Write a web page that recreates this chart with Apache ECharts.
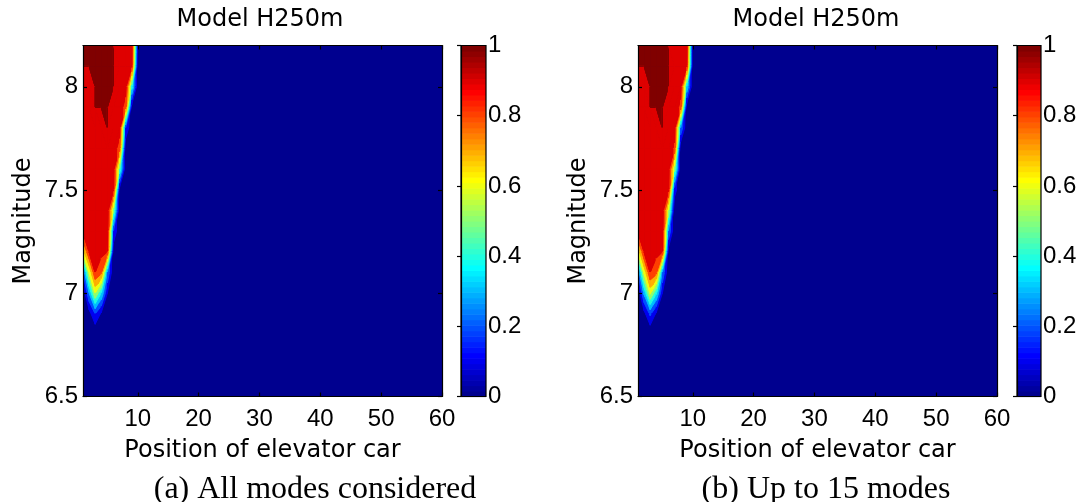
<!DOCTYPE html>
<html>
<head>
<meta charset="utf-8">
<script src="https://cdn.jsdelivr.net/npm/echarts@6/dist/echarts.min.js"></script>
<style>
  html, body { margin: 0; padding: 0; background: #fff; }
  #chart { width: 1084px; height: 502px; }
</style>
</head>
<body>
<div id="chart"></div>
<script>
// Grid rows from the top (y = 8.2) down to y = 6.5, columns x = 1..60.
// Only the first columns are listed, every column after them reads 0.
const yValues = [8.2, 8.1, 8.0, 7.9, 7.8, 7.7, 7.6, 7.5, 7.4, 7.3, 7.2, 7.1, 7.0, 6.9, 6.8, 6.7, 6.6, 6.5];
const xFirst = 1;
const xCount = 60;

// (a) All modes considered
const rowsAll = [
  [1, 1, 1, 1, 1, 1, 0.98, 0.97, 0.96, 0.05],
  [1, 1, 1, 1, 1, 1, 0.98, 0.97, 0.93],
  [0.98, 0.98, 1, 1, 1, 1, 0.97, 0.95, 0.45],
  [0.97, 0.97, 1, 1, 1, 0.98, 0.96, 0.85, 0.05],
  [0.96, 0.96, 0.97, 0.98, 1, 0.97, 0.95, 0.2],
  [0.96, 0.96, 0.96, 0.96, 0.96, 0.96, 0.85],
  [0.95, 0.95, 0.95, 0.95, 0.95, 0.95, 0.5],
  [0.95, 0.95, 0.95, 0.95, 0.94, 0.92, 0.05],
  [0.95, 0.95, 0.95, 0.95, 0.96, 0.55],
  [0.93, 0.95, 0.95, 0.95, 0.94, 0.2],
  [0.65, 0.9, 0.93, 0.93, 0.9, 0.02],
  [0.2, 0.6, 0.9, 0.82, 0.3],
  [0, 0.3, 0.6, 0.4, 0.1],
  [0, 0.05, 0.2, 0.08],
  [], [], [], []
];

// (b) Up to 15 modes
const rows15 = [
  [1, 1, 1, 1, 1, 1, 0.98, 0.97, 0.96],
  [1, 1, 1, 1, 1, 1, 0.98, 0.97, 0.92],
  [0.98, 0.98, 1, 1, 1, 1, 0.97, 0.95, 0.4],
  [0.97, 0.97, 1, 1, 1, 0.98, 0.96, 0.87, 0.03],
  [0.96, 0.96, 0.97, 0.98, 1, 0.97, 0.95, 0.3],
  [0.96, 0.96, 0.96, 0.96, 0.96, 0.96, 0.88],
  [0.95, 0.95, 0.95, 0.95, 0.95, 0.95, 0.55],
  [0.95, 0.95, 0.95, 0.95, 0.94, 0.93, 0.15],
  [0.95, 0.95, 0.95, 0.95, 0.96, 0.6],
  [0.93, 0.95, 0.95, 0.95, 0.94, 0.3],
  [0.63, 0.9, 0.93, 0.93, 0.9, 0.05],
  [0.22, 0.62, 0.9, 0.83, 0.3],
  [0, 0.32, 0.62, 0.42, 0.1],
  [0, 0.06, 0.22, 0.08],
  [], [], [], []
];

const levels = [0, 0.1, 0.2, 0.3, 0.4, 0.5, 0.6, 0.7, 0.8, 0.9, 1];
const xTicks = [10, 20, 30, 40, 50, 60];
const yTicks = [6.5, 7, 7.5, 8];
const panelTitle = 'Model H250m';
const captions = ['(a) All modes considered', '(b) Up to 15 modes'];

// MATLAB jet(64)
function jetU(i) {
  return i <= 16 ? i / 16 : (i <= 31 ? 1 : (48 - i) / 16);
}
function jet64(k) {
  const r = k >= 25 ? jetU(k - 24) : 0;
  const g = (k >= 9 && k <= 55) ? jetU(k - 8) : 0;
  const b = k <= 39 ? jetU(k + 8) : 0;
  return 'rgb(' + Math.round(r * 255) + ',' + Math.round(g * 255) + ',' + Math.round(b * 255) + ')';
}
const bandColors = levels.map(l => jet64(Math.min(64, Math.floor(l * 64 + 1e-9) + 1)));

function bandOf(v) {
  let k = 0;
  for (let i = 0; i < levels.length; i++) if (v >= levels[i] - 1e-12) k = i;
  return k;
}

function valueAt(rows, i, j) {
  const r = rows[j];
  return (r && r[i] !== undefined) ? r[i] : 0;
}

function clipPoly(poly, t, keepAbove) {
  const out = [];
  for (let a = 0; a < poly.length; a++) {
    const P = poly[a], Q = poly[(a + 1) % poly.length];
    const pin = keepAbove ? P.v >= t : P.v < t;
    const qin = keepAbove ? Q.v >= t : Q.v < t;
    if (pin) out.push(P);
    if (pin !== qin) {
      const f = (t - P.v) / (Q.v - P.v);
      out.push({ x: P.x + f * (Q.x - P.x), y: P.y + f * (Q.y - P.y), v: t });
    }
  }
  return out;
}

// filled contour bands of one grid cell, split in two triangles
function makeContour(rows) {
  return function (params, api) {
    const i = api.value(2), j = api.value(3);
    const x0 = xFirst + i, x1 = xFirst + i + 1;
    const yb = yValues[j + 1], yt = yValues[j];
    const A = { x: x0, y: yb, v: valueAt(rows, i, j + 1) };
    const B = { x: x1, y: yb, v: valueAt(rows, i + 1, j + 1) };
    const C = { x: x1, y: yt, v: valueAt(rows, i + 1, j) };
    const D = { x: x0, y: yt, v: valueAt(rows, i, j) };
    const corners = [A, B, C, D];
    const children = [];
    const toShape = (poly, k) => {
      if (poly.length < 3 || k === 0) return; // band 0 is the grid background
      children.push({
        type: 'polygon',
        shape: { points: poly.map(p => api.coord([p.x, p.y])) },
        style: { fill: bandColors[k], stroke: bandColors[k], lineWidth: 1 }
      });
    };
    const bands = corners.map(c => bandOf(c.v));
    if (Math.min(...bands) === Math.max(...bands)) {
      toShape(corners, bands[0]);
      return { type: 'group', children };
    }
    const mean = (A.v + B.v + C.v + D.v) / 4;
    let odd = 0, dev = -1;
    corners.forEach((c, n) => { const d = Math.abs(c.v - mean); if (d > dev) { dev = d; odd = n; } });
    const tris = (odd === 0 || odd === 2) ? [[A, B, D], [B, C, D]] : [[A, B, C], [A, C, D]];
    tris.forEach(tri => {
      const tb = tri.map(c => bandOf(c.v));
      for (let k = Math.min(...tb); k <= Math.max(...tb); k++) {
        let poly = clipPoly(tri, levels[k], true);
        if (k < levels.length - 1) poly = clipPoly(poly, levels[k + 1], false);
        toShape(poly, k);
      }
    });
    return { type: 'group', children };
  };
}

function cellData() {
  const data = [];
  for (let j = 0; j < yValues.length - 1; j++) {
    for (let i = 0; i < xCount - 1; i++) {
      data.push([xFirst + i + 0.5, (yValues[j] + yValues[j + 1]) / 2, i, j]);
    }
  }
  return data;
}

function colorbarItem(params, api) {
  const children = [];
  for (let k = 0; k < 64; k++) {
    const p0 = api.coord([0, k / 64]);
    const p1 = api.coord([1, (k + 1) / 64]);
    children.push({
      type: 'rect',
      shape: { x: p0[0], y: p1[1], width: p1[0] - p0[0], height: p0[1] - p1[1] + 0.6 },
      style: { fill: jet64(k + 1) }
    });
  }
  const a = api.coord([0, 0]), b = api.coord([1, 1]);
  children.push({
    type: 'rect',
    shape: { x: a[0], y: b[1], width: b[0] - a[0], height: a[1] - b[1] },
    style: { fill: 'none', stroke: '#000', lineWidth: 1.2 }
  });
  return { type: 'group', children };
}

const numFont = { fontFamily: 'Liberation Sans', fontSize: 24, color: '#000' };
const textFont = { fontFamily: 'DejaVu Sans', fontSize: 24, color: '#000' };
const lineStyle = { color: '#000', width: 1.2 };

const plots = [
  { left: 83, width: 359, cbLeft: 461, cbWidth: 25, rows: rowsAll, caption: captions[0], capX: 310, titleX: 255 },
  { left: 638, width: 359, cbLeft: 1017, cbWidth: 24, rows: rows15, caption: captions[1], capX: 821, titleX: 811 }
];
const plotTop = 45.5, plotHeight = 351;

const option = { animation: false, grid: [], xAxis: [], yAxis: [], series: [], title: [] };

plots.forEach((p, n) => {
  const g = option.grid.length;
  option.grid.push({
    left: p.left, top: plotTop, width: p.width, height: plotHeight,
    show: true, backgroundColor: bandColors[0], borderWidth: 0
  });
  option.grid.push({ left: p.cbLeft, top: plotTop, width: p.cbWidth, height: plotHeight });
  const xa = option.xAxis.length, ya = option.yAxis.length;
  option.xAxis.push({
    type: 'value', gridIndex: g, min: 1, max: 60, position: 'bottom', z: 10,
    axisLine: { show: true, lineStyle }, splitLine: { show: false },
    axisTick: { inside: true, length: 4, lineStyle, customValues: xTicks },
    axisLabel: Object.assign({ margin: 11, customValues: xTicks }, numFont),
    name: 'Position of elevator car', nameLocation: 'middle', nameGap: 42,
    nameTextStyle: textFont
  });
  option.xAxis.push({
    type: 'value', gridIndex: g, min: 1, max: 60, position: 'top', z: 10,
    axisLine: { show: true, lineStyle }, splitLine: { show: false },
    axisTick: { inside: true, length: 4, lineStyle, customValues: xTicks },
    axisLabel: { show: false }
  });
  option.xAxis.push({ type: 'value', gridIndex: g + 1, min: 0, max: 1, show: false });
  option.yAxis.push({
    type: 'value', gridIndex: g, min: 6.5, max: 8.2, position: 'left', z: 10,
    axisLine: { show: true, lineStyle }, splitLine: { show: false },
    axisTick: { inside: true, length: 4, lineStyle, customValues: yTicks },
    axisLabel: Object.assign({ margin: 5, customValues: yTicks }, numFont),
    name: 'Magnitude', nameLocation: 'middle', nameGap: 47, nameRotate: 90,
    nameTextStyle: textFont
  });
  option.yAxis.push({
    type: 'value', gridIndex: g, min: 6.5, max: 8.2, position: 'right', z: 10,
    axisLine: { show: true, lineStyle }, splitLine: { show: false },
    axisTick: { inside: true, length: 4, lineStyle, customValues: yTicks },
    axisLabel: { show: false }
  });
  option.yAxis.push({
    type: 'value', gridIndex: g + 1, min: 0, max: 1, interval: 0.2, position: 'right', z: 10,
    axisLine: { show: true, lineStyle }, splitLine: { show: false },
    axisTick: { inside: true, length: 4, lineStyle },
    axisLabel: Object.assign({ margin: 2 }, numFont)
  });
  option.series.push({
    type: 'custom', xAxisIndex: xa, yAxisIndex: ya, clip: true, silent: true,
    encode: { x: 0, y: 1 }, renderItem: makeContour(p.rows), data: cellData()
  });
  option.series.push({
    type: 'custom', xAxisIndex: xa + 2, yAxisIndex: ya + 2, silent: true,
    encode: { x: 0, y: 1 }, renderItem: colorbarItem, data: [[0.5, 0.5]]
  });
  option.title.push({
    text: panelTitle, left: p.titleX, top: 3, textAlign: 'center',
    textStyle: Object.assign({ fontWeight: 'normal' }, textFont)
  });
  option.title.push({
    text: p.caption, left: p.capX, top: 469, textAlign: 'center',
    textStyle: { fontFamily: 'Liberation Serif', fontSize: 32, fontWeight: 'normal', color: '#000' }
  });
});

const chart = echarts.init(document.getElementById('chart'), null, { renderer: 'canvas' });
chart.setOption(option);
</script>
</body>
</html>
